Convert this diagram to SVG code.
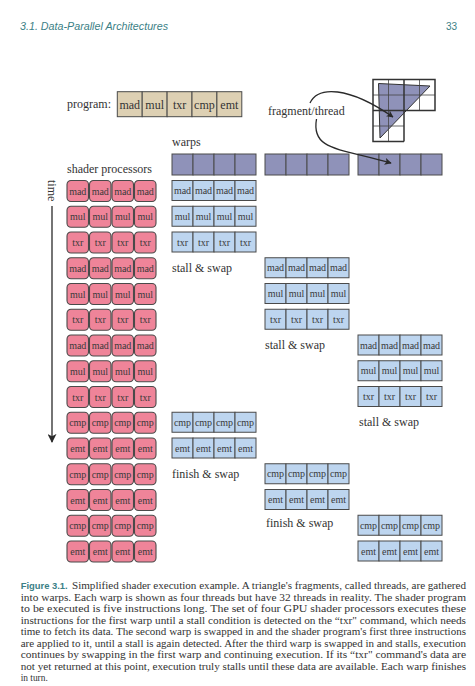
<svg xmlns="http://www.w3.org/2000/svg" width="475" height="686" viewBox="0 0 475 686">
<defs>
<style>
.hdr{font-family:"Liberation Sans","DejaVu Sans",sans-serif;font-style:italic;font-size:10px;fill:#3b7f86}
.pg{font-family:"Liberation Sans","DejaVu Sans",sans-serif;font-size:10px;fill:#3b7f86}
.lbl{font-family:"Liberation Serif","Times New Roman",serif;font-size:12px;fill:#333}
.t10{font-family:"Liberation Serif","Times New Roman",serif;font-size:10px;fill:#3a3a3a;text-anchor:middle}
.t12{font-family:"Liberation Serif","Times New Roman",serif;font-size:12px;fill:#333;text-anchor:middle}
.pink{fill:#ef8499;stroke:#4a4a4a;stroke-width:1.1}
.blue{fill:#bdd5ef;stroke:#4a4a4a;stroke-width:1}
.dark{fill:#8f92b9;stroke:#4a4a4a;stroke-width:1}
.beige{fill:#ddd0b3;stroke:#4a4a4a;stroke-width:1}
.conn{fill:none;stroke:#2a2a2a;stroke-width:1.3}
.cap{font-family:"Liberation Serif","Times New Roman",serif;font-size:9.4px;fill:#333}
.capb{font-family:"Liberation Sans","DejaVu Sans",sans-serif;font-weight:bold;font-size:9.2px;fill:#3b7f86}
.gthin{stroke:#444;stroke-width:0.8;fill:none}
.gthick{stroke:#333;stroke-width:1.5;fill:none}
</style>
<marker id="ah" viewBox="0 0 10 10" refX="9" refY="5" markerWidth="7" markerHeight="7" orient="auto" markerUnits="userSpaceOnUse">
<path d="M0,0 L10,5 L0,10 L2.5,5 Z" fill="#2a2a2a"/>
</marker>
<marker id="ah2" viewBox="0 0 10 10" refX="9" refY="5" markerWidth="9" markerHeight="9" orient="auto" markerUnits="userSpaceOnUse">
<path d="M0,0 L10,5 L0,10 L2.5,5 Z" fill="#2a2a2a"/>
</marker>
</defs>
<rect width="475" height="686" fill="#ffffff"/>

<g id="header">
<text class="hdr" x="20" y="30" textLength="148" lengthAdjust="spacingAndGlyphs">3.1.  Data-Parallel Architectures</text>
<text class="pg" x="457" y="30" text-anchor="end">33</text>
</g>

<g id="program">
<text class="lbl" x="67" y="108">program:</text>
<rect class="beige" x="117.3" y="91.7" width="24.9" height="25"/>
<rect class="beige" x="142.2" y="91.7" width="24.9" height="25"/>
<rect class="beige" x="167.1" y="91.7" width="24.9" height="25"/>
<rect class="beige" x="192" y="91.7" width="24.9" height="25"/>
<rect class="beige" x="216.9" y="91.7" width="24.9" height="25"/>
<text class="t12" x="129.75" y="108.5">mad</text>
<text class="t12" x="154.65" y="108.5">mul</text>
<text class="t12" x="179.55" y="108.5">txr</text>
<text class="t12" x="204.45" y="108.5">cmp</text>
<text class="t12" x="229.35" y="108.5">emt</text>
</g>

<g id="triangle">
<rect x="373" y="79.5" width="62" height="31" fill="#fff"/>
<rect x="373" y="110.5" width="31" height="31" fill="#fff"/>
<polygon points="378.5,83.5 430,86 380,138" fill="#8f92b9" stroke="#333" stroke-width="1"/>
<path class="gthin" d="M388.5,79.5 V141.5 M419.5,79.5 V110.5 M373,95 H435 M373,126 H404"/>
<path class="gthick" d="M373,79.5 H435 V110.5 H373 Z M404,79.5 V141.5 M373,110.5 V141.5 H404"/>
</g>

<g id="fragment-label">
<text class="lbl" x="268" y="115">fragment/thread</text>
</g>

<g id="warps-label"><text class="lbl" x="172" y="146">warps</text></g>
<g id="sp-label"><text class="lbl" x="67" y="173">shader processors</text></g>
<g id="time-label"><text class="lbl" transform="translate(48,180) rotate(90)">time</text></g>

<g id="warp1">
<rect class="dark" x="172" y="154" width="21" height="21"/><rect class="dark" x="193" y="154" width="21" height="21"/><rect class="dark" x="214" y="154" width="21" height="21"/><rect class="dark" x="235" y="154" width="21" height="21"/>
</g>
<g id="warp2">
<rect class="dark" x="265" y="154" width="21" height="21"/><rect class="dark" x="286" y="154" width="21" height="21"/><rect class="dark" x="307" y="154" width="21" height="21"/><rect class="dark" x="328" y="154" width="21" height="21"/>
</g>
<g id="warp3">
<rect class="dark" x="358" y="154" width="21" height="21"/><rect class="dark" x="379" y="154" width="21" height="21"/><rect class="dark" x="400" y="154" width="21" height="21"/><rect class="dark" x="421" y="154" width="21" height="21"/>
</g>

<g id="processors">
<g id="p-row0" transform="translate(0,180.5)"><rect class="pink" x="67" y="0" width="21.5" height="21" rx="4"/><rect class="pink" x="89.5" y="0" width="21.5" height="21" rx="4"/><rect class="pink" x="112" y="0" width="21.5" height="21" rx="4"/><rect class="pink" x="134.5" y="0" width="21.5" height="21" rx="4"/><text class="t10" x="77.75" y="14">mad</text><text class="t10" x="100.25" y="14">mad</text><text class="t10" x="122.75" y="14">mad</text><text class="t10" x="145.25" y="14">mad</text></g>
<g id="p-row1" transform="translate(0,206.25)"><rect class="pink" x="67" y="0" width="21.5" height="21" rx="4"/><rect class="pink" x="89.5" y="0" width="21.5" height="21" rx="4"/><rect class="pink" x="112" y="0" width="21.5" height="21" rx="4"/><rect class="pink" x="134.5" y="0" width="21.5" height="21" rx="4"/><text class="t10" x="77.75" y="14">mul</text><text class="t10" x="100.25" y="14">mul</text><text class="t10" x="122.75" y="14">mul</text><text class="t10" x="145.25" y="14">mul</text></g>
<g id="p-row2" transform="translate(0,232)"><rect class="pink" x="67" y="0" width="21.5" height="21" rx="4"/><rect class="pink" x="89.5" y="0" width="21.5" height="21" rx="4"/><rect class="pink" x="112" y="0" width="21.5" height="21" rx="4"/><rect class="pink" x="134.5" y="0" width="21.5" height="21" rx="4"/><text class="t10" x="77.75" y="14">txr</text><text class="t10" x="100.25" y="14">txr</text><text class="t10" x="122.75" y="14">txr</text><text class="t10" x="145.25" y="14">txr</text></g>
<g id="p-row3" transform="translate(0,257.75)"><rect class="pink" x="67" y="0" width="21.5" height="21" rx="4"/><rect class="pink" x="89.5" y="0" width="21.5" height="21" rx="4"/><rect class="pink" x="112" y="0" width="21.5" height="21" rx="4"/><rect class="pink" x="134.5" y="0" width="21.5" height="21" rx="4"/><text class="t10" x="77.75" y="14">mad</text><text class="t10" x="100.25" y="14">mad</text><text class="t10" x="122.75" y="14">mad</text><text class="t10" x="145.25" y="14">mad</text></g>
<g id="p-row4" transform="translate(0,283.5)"><rect class="pink" x="67" y="0" width="21.5" height="21" rx="4"/><rect class="pink" x="89.5" y="0" width="21.5" height="21" rx="4"/><rect class="pink" x="112" y="0" width="21.5" height="21" rx="4"/><rect class="pink" x="134.5" y="0" width="21.5" height="21" rx="4"/><text class="t10" x="77.75" y="14">mul</text><text class="t10" x="100.25" y="14">mul</text><text class="t10" x="122.75" y="14">mul</text><text class="t10" x="145.25" y="14">mul</text></g>
<g id="p-row5" transform="translate(0,309.25)"><rect class="pink" x="67" y="0" width="21.5" height="21" rx="4"/><rect class="pink" x="89.5" y="0" width="21.5" height="21" rx="4"/><rect class="pink" x="112" y="0" width="21.5" height="21" rx="4"/><rect class="pink" x="134.5" y="0" width="21.5" height="21" rx="4"/><text class="t10" x="77.75" y="14">txr</text><text class="t10" x="100.25" y="14">txr</text><text class="t10" x="122.75" y="14">txr</text><text class="t10" x="145.25" y="14">txr</text></g>
<g id="p-row6" transform="translate(0,335)"><rect class="pink" x="67" y="0" width="21.5" height="21" rx="4"/><rect class="pink" x="89.5" y="0" width="21.5" height="21" rx="4"/><rect class="pink" x="112" y="0" width="21.5" height="21" rx="4"/><rect class="pink" x="134.5" y="0" width="21.5" height="21" rx="4"/><text class="t10" x="77.75" y="14">mad</text><text class="t10" x="100.25" y="14">mad</text><text class="t10" x="122.75" y="14">mad</text><text class="t10" x="145.25" y="14">mad</text></g>
<g id="p-row7" transform="translate(0,360.75)"><rect class="pink" x="67" y="0" width="21.5" height="21" rx="4"/><rect class="pink" x="89.5" y="0" width="21.5" height="21" rx="4"/><rect class="pink" x="112" y="0" width="21.5" height="21" rx="4"/><rect class="pink" x="134.5" y="0" width="21.5" height="21" rx="4"/><text class="t10" x="77.75" y="14">mul</text><text class="t10" x="100.25" y="14">mul</text><text class="t10" x="122.75" y="14">mul</text><text class="t10" x="145.25" y="14">mul</text></g>
<g id="p-row8" transform="translate(0,386.5)"><rect class="pink" x="67" y="0" width="21.5" height="21" rx="4"/><rect class="pink" x="89.5" y="0" width="21.5" height="21" rx="4"/><rect class="pink" x="112" y="0" width="21.5" height="21" rx="4"/><rect class="pink" x="134.5" y="0" width="21.5" height="21" rx="4"/><text class="t10" x="77.75" y="14">txr</text><text class="t10" x="100.25" y="14">txr</text><text class="t10" x="122.75" y="14">txr</text><text class="t10" x="145.25" y="14">txr</text></g>
<g id="p-row9" transform="translate(0,412.25)"><rect class="pink" x="67" y="0" width="21.5" height="21" rx="4"/><rect class="pink" x="89.5" y="0" width="21.5" height="21" rx="4"/><rect class="pink" x="112" y="0" width="21.5" height="21" rx="4"/><rect class="pink" x="134.5" y="0" width="21.5" height="21" rx="4"/><text class="t10" x="77.75" y="14">cmp</text><text class="t10" x="100.25" y="14">cmp</text><text class="t10" x="122.75" y="14">cmp</text><text class="t10" x="145.25" y="14">cmp</text></g>
<g id="p-row10" transform="translate(0,438)"><rect class="pink" x="67" y="0" width="21.5" height="21" rx="4"/><rect class="pink" x="89.5" y="0" width="21.5" height="21" rx="4"/><rect class="pink" x="112" y="0" width="21.5" height="21" rx="4"/><rect class="pink" x="134.5" y="0" width="21.5" height="21" rx="4"/><text class="t10" x="77.75" y="14">emt</text><text class="t10" x="100.25" y="14">emt</text><text class="t10" x="122.75" y="14">emt</text><text class="t10" x="145.25" y="14">emt</text></g>
<g id="p-row11" transform="translate(0,463.75)"><rect class="pink" x="67" y="0" width="21.5" height="21" rx="4"/><rect class="pink" x="89.5" y="0" width="21.5" height="21" rx="4"/><rect class="pink" x="112" y="0" width="21.5" height="21" rx="4"/><rect class="pink" x="134.5" y="0" width="21.5" height="21" rx="4"/><text class="t10" x="77.75" y="14">cmp</text><text class="t10" x="100.25" y="14">cmp</text><text class="t10" x="122.75" y="14">cmp</text><text class="t10" x="145.25" y="14">cmp</text></g>
<g id="p-row12" transform="translate(0,489.5)"><rect class="pink" x="67" y="0" width="21.5" height="21" rx="4"/><rect class="pink" x="89.5" y="0" width="21.5" height="21" rx="4"/><rect class="pink" x="112" y="0" width="21.5" height="21" rx="4"/><rect class="pink" x="134.5" y="0" width="21.5" height="21" rx="4"/><text class="t10" x="77.75" y="14">emt</text><text class="t10" x="100.25" y="14">emt</text><text class="t10" x="122.75" y="14">emt</text><text class="t10" x="145.25" y="14">emt</text></g>
<g id="p-row13" transform="translate(0,515.25)"><rect class="pink" x="67" y="0" width="21.5" height="21" rx="4"/><rect class="pink" x="89.5" y="0" width="21.5" height="21" rx="4"/><rect class="pink" x="112" y="0" width="21.5" height="21" rx="4"/><rect class="pink" x="134.5" y="0" width="21.5" height="21" rx="4"/><text class="t10" x="77.75" y="14">cmp</text><text class="t10" x="100.25" y="14">cmp</text><text class="t10" x="122.75" y="14">cmp</text><text class="t10" x="145.25" y="14">cmp</text></g>
<g id="p-row14" transform="translate(0,541)"><rect class="pink" x="67" y="0" width="21.5" height="21" rx="4"/><rect class="pink" x="89.5" y="0" width="21.5" height="21" rx="4"/><rect class="pink" x="112" y="0" width="21.5" height="21" rx="4"/><rect class="pink" x="134.5" y="0" width="21.5" height="21" rx="4"/><text class="t10" x="77.75" y="14">emt</text><text class="t10" x="100.25" y="14">emt</text><text class="t10" x="122.75" y="14">emt</text><text class="t10" x="145.25" y="14">emt</text></g>
</g>

<g id="w1-exec">
<g id="w1-mad" transform="translate(172,180.5)"><rect class="blue" x="0" y="0" width="21" height="20"/><rect class="blue" x="21" y="0" width="21" height="20"/><rect class="blue" x="42" y="0" width="21" height="20"/><rect class="blue" x="63" y="0" width="21" height="20"/><text class="t10" x="10.5" y="13.5">mad</text><text class="t10" x="31.5" y="13.5">mad</text><text class="t10" x="52.5" y="13.5">mad</text><text class="t10" x="73.5" y="13.5">mad</text></g>
<g id="w1-mul" transform="translate(172,206.25)"><rect class="blue" x="0" y="0" width="21" height="20"/><rect class="blue" x="21" y="0" width="21" height="20"/><rect class="blue" x="42" y="0" width="21" height="20"/><rect class="blue" x="63" y="0" width="21" height="20"/><text class="t10" x="10.5" y="13.5">mul</text><text class="t10" x="31.5" y="13.5">mul</text><text class="t10" x="52.5" y="13.5">mul</text><text class="t10" x="73.5" y="13.5">mul</text></g>
<g id="w1-txr" transform="translate(172,232)"><rect class="blue" x="0" y="0" width="21" height="20"/><rect class="blue" x="21" y="0" width="21" height="20"/><rect class="blue" x="42" y="0" width="21" height="20"/><rect class="blue" x="63" y="0" width="21" height="20"/><text class="t10" x="10.5" y="13.5">txr</text><text class="t10" x="31.5" y="13.5">txr</text><text class="t10" x="52.5" y="13.5">txr</text><text class="t10" x="73.5" y="13.5">txr</text></g>
<g id="w1-cmp" transform="translate(172,412.25)"><rect class="blue" x="0" y="0" width="21" height="20"/><rect class="blue" x="21" y="0" width="21" height="20"/><rect class="blue" x="42" y="0" width="21" height="20"/><rect class="blue" x="63" y="0" width="21" height="20"/><text class="t10" x="10.5" y="13.5">cmp</text><text class="t10" x="31.5" y="13.5">cmp</text><text class="t10" x="52.5" y="13.5">cmp</text><text class="t10" x="73.5" y="13.5">cmp</text></g>
<g id="w1-emt" transform="translate(172,438)"><rect class="blue" x="0" y="0" width="21" height="20"/><rect class="blue" x="21" y="0" width="21" height="20"/><rect class="blue" x="42" y="0" width="21" height="20"/><rect class="blue" x="63" y="0" width="21" height="20"/><text class="t10" x="10.5" y="13.5">emt</text><text class="t10" x="31.5" y="13.5">emt</text><text class="t10" x="52.5" y="13.5">emt</text><text class="t10" x="73.5" y="13.5">emt</text></g>
</g>

<g id="w2-exec">
<g id="w2-mad" transform="translate(265,257.75)"><rect class="blue" x="0" y="0" width="21" height="20"/><rect class="blue" x="21" y="0" width="21" height="20"/><rect class="blue" x="42" y="0" width="21" height="20"/><rect class="blue" x="63" y="0" width="21" height="20"/><text class="t10" x="10.5" y="13.5">mad</text><text class="t10" x="31.5" y="13.5">mad</text><text class="t10" x="52.5" y="13.5">mad</text><text class="t10" x="73.5" y="13.5">mad</text></g>
<g id="w2-mul" transform="translate(265,283.5)"><rect class="blue" x="0" y="0" width="21" height="20"/><rect class="blue" x="21" y="0" width="21" height="20"/><rect class="blue" x="42" y="0" width="21" height="20"/><rect class="blue" x="63" y="0" width="21" height="20"/><text class="t10" x="10.5" y="13.5">mul</text><text class="t10" x="31.5" y="13.5">mul</text><text class="t10" x="52.5" y="13.5">mul</text><text class="t10" x="73.5" y="13.5">mul</text></g>
<g id="w2-txr" transform="translate(265,309.25)"><rect class="blue" x="0" y="0" width="21" height="20"/><rect class="blue" x="21" y="0" width="21" height="20"/><rect class="blue" x="42" y="0" width="21" height="20"/><rect class="blue" x="63" y="0" width="21" height="20"/><text class="t10" x="10.5" y="13.5">txr</text><text class="t10" x="31.5" y="13.5">txr</text><text class="t10" x="52.5" y="13.5">txr</text><text class="t10" x="73.5" y="13.5">txr</text></g>
<g id="w2-cmp" transform="translate(265,463.75)"><rect class="blue" x="0" y="0" width="21" height="20"/><rect class="blue" x="21" y="0" width="21" height="20"/><rect class="blue" x="42" y="0" width="21" height="20"/><rect class="blue" x="63" y="0" width="21" height="20"/><text class="t10" x="10.5" y="13.5">cmp</text><text class="t10" x="31.5" y="13.5">cmp</text><text class="t10" x="52.5" y="13.5">cmp</text><text class="t10" x="73.5" y="13.5">cmp</text></g>
<g id="w2-emt" transform="translate(265,489.5)"><rect class="blue" x="0" y="0" width="21" height="20"/><rect class="blue" x="21" y="0" width="21" height="20"/><rect class="blue" x="42" y="0" width="21" height="20"/><rect class="blue" x="63" y="0" width="21" height="20"/><text class="t10" x="10.5" y="13.5">emt</text><text class="t10" x="31.5" y="13.5">emt</text><text class="t10" x="52.5" y="13.5">emt</text><text class="t10" x="73.5" y="13.5">emt</text></g>
</g>

<g id="w3-exec">
<g id="w3-mad" transform="translate(358,335)"><rect class="blue" x="0" y="0" width="21" height="20"/><rect class="blue" x="21" y="0" width="21" height="20"/><rect class="blue" x="42" y="0" width="21" height="20"/><rect class="blue" x="63" y="0" width="21" height="20"/><text class="t10" x="10.5" y="13.5">mad</text><text class="t10" x="31.5" y="13.5">mad</text><text class="t10" x="52.5" y="13.5">mad</text><text class="t10" x="73.5" y="13.5">mad</text></g>
<g id="w3-mul" transform="translate(358,360.75)"><rect class="blue" x="0" y="0" width="21" height="20"/><rect class="blue" x="21" y="0" width="21" height="20"/><rect class="blue" x="42" y="0" width="21" height="20"/><rect class="blue" x="63" y="0" width="21" height="20"/><text class="t10" x="10.5" y="13.5">mul</text><text class="t10" x="31.5" y="13.5">mul</text><text class="t10" x="52.5" y="13.5">mul</text><text class="t10" x="73.5" y="13.5">mul</text></g>
<g id="w3-txr" transform="translate(358,386.5)"><rect class="blue" x="0" y="0" width="21" height="20"/><rect class="blue" x="21" y="0" width="21" height="20"/><rect class="blue" x="42" y="0" width="21" height="20"/><rect class="blue" x="63" y="0" width="21" height="20"/><text class="t10" x="10.5" y="13.5">txr</text><text class="t10" x="31.5" y="13.5">txr</text><text class="t10" x="52.5" y="13.5">txr</text><text class="t10" x="73.5" y="13.5">txr</text></g>
<g id="w3-cmp" transform="translate(358,515.25)"><rect class="blue" x="0" y="0" width="21" height="20"/><rect class="blue" x="21" y="0" width="21" height="20"/><rect class="blue" x="42" y="0" width="21" height="20"/><rect class="blue" x="63" y="0" width="21" height="20"/><text class="t10" x="10.5" y="13.5">cmp</text><text class="t10" x="31.5" y="13.5">cmp</text><text class="t10" x="52.5" y="13.5">cmp</text><text class="t10" x="73.5" y="13.5">cmp</text></g>
<g id="w3-emt" transform="translate(358,541)"><rect class="blue" x="0" y="0" width="21" height="20"/><rect class="blue" x="21" y="0" width="21" height="20"/><rect class="blue" x="42" y="0" width="21" height="20"/><rect class="blue" x="63" y="0" width="21" height="20"/><text class="t10" x="10.5" y="13.5">emt</text><text class="t10" x="31.5" y="13.5">emt</text><text class="t10" x="52.5" y="13.5">emt</text><text class="t10" x="73.5" y="13.5">emt</text></g>
</g>

<g id="event-labels">
<text class="lbl" x="172" y="272">stall &amp; swap</text>
<text class="lbl" x="265" y="349">stall &amp; swap</text>
<text class="lbl" x="359" y="426">stall &amp; swap</text>
<text class="lbl" x="172" y="478">finish &amp; swap</text>
<text class="lbl" x="266" y="527">finish &amp; swap</text>
</g>

<g id="connectors">
<path class="conn" d="M52,206 V442" marker-end="url(#ah2)"/>
<path class="conn" d="M310,103 C318,86 348,86 393,117" marker-end="url(#ah)"/>
<path class="conn" d="M316.5,119 C311,150 338,148 391,163" marker-end="url(#ah)"/>
</g>

<g id="caption">
<text class="capb" x="20.7" y="589" textLength="47" lengthAdjust="spacingAndGlyphs">Figure 3.1.</text>
<text class="cap" x="72" y="589" textLength="394" lengthAdjust="spacingAndGlyphs">Simplified shader execution example. A triangle's fragments, called threads, are gathered</text>
<text class="cap" x="20.7" y="600.5" textLength="445.3" lengthAdjust="spacingAndGlyphs">into warps. Each warp is shown as four threads but have 32 threads in reality. The shader program</text>
<text class="cap" x="20.7" y="612" textLength="445.3" lengthAdjust="spacingAndGlyphs">to be executed is five instructions long.  The set of four GPU shader processors executes these</text>
<text class="cap" x="20.7" y="623.5" textLength="445.3" lengthAdjust="spacingAndGlyphs">instructions for the first warp until a stall condition is detected on the “txr" command, which needs</text>
<text class="cap" x="20.7" y="635" textLength="445.3" lengthAdjust="spacingAndGlyphs">time to fetch its data.  The second warp is swapped in and the shader program's first three instructions</text>
<text class="cap" x="20.7" y="646.5" textLength="445.3" lengthAdjust="spacingAndGlyphs">are applied to it, until a stall is again detected.  After the third warp is swapped in and stalls, execution</text>
<text class="cap" x="20.7" y="658" textLength="445.3" lengthAdjust="spacingAndGlyphs">continues by swapping in the first warp and continuing execution.  If its “txr" command's data are</text>
<text class="cap" x="20.7" y="669.5" textLength="445.3" lengthAdjust="spacingAndGlyphs">not yet returned at this point, execution truly stalls until these data are available. Each warp finishes</text>
<text class="cap" x="20.7" y="681">in turn.</text>
</g>
</svg>
